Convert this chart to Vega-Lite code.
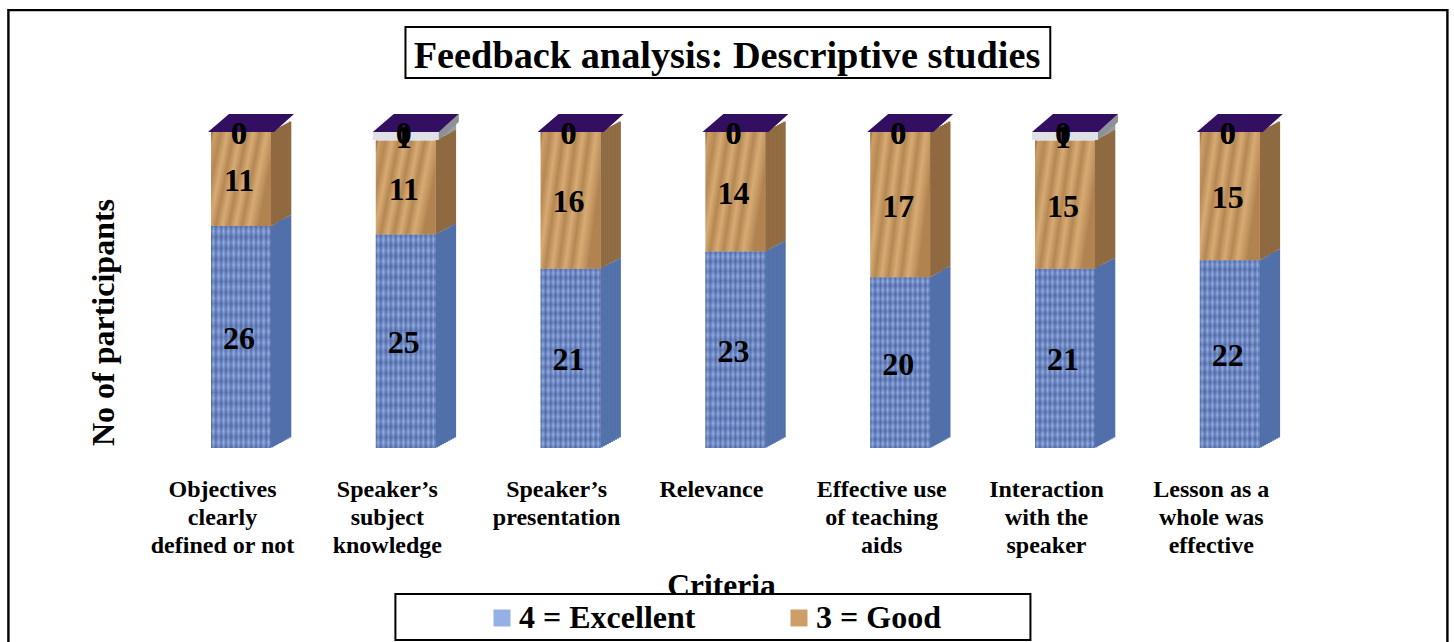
{
"$schema":"https://vega.github.io/schema/vega-lite/v6.json",
"width":1454,"height":642,"padding":0,"autosize":{"type":"none"},"background":"white",
"config":{"view":{"stroke":null},"font":"Liberation Serif"},
"title":{"text":"Feedback analysis: Descriptive studies","font":"Liberation Serif","fontSize":38.3,"fontWeight":"bold","color":"black","anchor":"middle","frame":"group","offset":-66,"dy":40,"baseline":"alphabetic"},
"data":{"values":[
{"criterion":"Objectives clearly defined or not","rating":"4 = Excellent","participants":26},
{"criterion":"Objectives clearly defined or not","rating":"3 = Good","participants":11},
{"criterion":"Objectives clearly defined or not","rating":"2 = Average","participants":0},
{"criterion":"Objectives clearly defined or not","rating":"1 = Poor","participants":0},
{"criterion":"Speaker’s subject knowledge","rating":"4 = Excellent","participants":25},
{"criterion":"Speaker’s subject knowledge","rating":"3 = Good","participants":11},
{"criterion":"Speaker’s subject knowledge","rating":"2 = Average","participants":1},
{"criterion":"Speaker’s subject knowledge","rating":"1 = Poor","participants":0},
{"criterion":"Speaker’s presentation","rating":"4 = Excellent","participants":21},
{"criterion":"Speaker’s presentation","rating":"3 = Good","participants":16},
{"criterion":"Speaker’s presentation","rating":"2 = Average","participants":0},
{"criterion":"Speaker’s presentation","rating":"1 = Poor","participants":0},
{"criterion":"Relevance","rating":"4 = Excellent","participants":23},
{"criterion":"Relevance","rating":"3 = Good","participants":14},
{"criterion":"Relevance","rating":"2 = Average","participants":0},
{"criterion":"Relevance","rating":"1 = Poor","participants":0},
{"criterion":"Effective use of teaching aids","rating":"4 = Excellent","participants":20},
{"criterion":"Effective use of teaching aids","rating":"3 = Good","participants":17},
{"criterion":"Effective use of teaching aids","rating":"2 = Average","participants":0},
{"criterion":"Effective use of teaching aids","rating":"1 = Poor","participants":0},
{"criterion":"Interaction with the speaker","rating":"4 = Excellent","participants":21},
{"criterion":"Interaction with the speaker","rating":"3 = Good","participants":15},
{"criterion":"Interaction with the speaker","rating":"2 = Average","participants":1},
{"criterion":"Interaction with the speaker","rating":"1 = Poor","participants":0},
{"criterion":"Lesson as a whole was effective","rating":"4 = Excellent","participants":22},
{"criterion":"Lesson as a whole was effective","rating":"3 = Good","participants":15},
{"criterion":"Lesson as a whole was effective","rating":"2 = Average","participants":0},
{"criterion":"Lesson as a whole was effective","rating":"1 = Poor","participants":0}
]},
"encoding":{
"x":{"field":"criterion","type":"nominal","sort":null,
 "scale":{"domain":["Objectives clearly defined or not","Speaker’s subject knowledge","Speaker’s presentation","Relevance","Effective use of teaching aids","Interaction with the speaker","Lesson as a whole was effective"],"range":[158.6,1312.2],"padding":0},
 "axis":{"orient":"bottom","offset":-172,"domain":false,"ticks":false,"grid":false,"labelAngle":0,"labelPadding":7,"labelOverlap":false,"labelLimit":400,"labelFont":"Liberation Serif","labelFontSize":24,"labelFontWeight":"bold","labelColor":"black","labelLineHeight":28,"labelBaseline":"top",
  "labelOffset":{"condition":[{"test":"datum.value=='Relevance'","value":-24},{"test":"datum.value=='Speaker’s presentation'","value":-14}],"value":-18.5},
  "labelExpr":"{'Objectives clearly defined or not':['Objectives','clearly','defined or not'],'Speaker’s subject knowledge':['Speaker’s','subject','knowledge'],'Speaker’s presentation':['Speaker’s','presentation'],'Relevance':['Relevance'],'Effective use of teaching aids':['Effective use','of teaching','aids'],'Interaction with the speaker':['Interaction','with the','speaker'],'Lesson as a whole was effective':['Lesson as a','whole was','effective']}[datum.label]",
  "title":"Criteria","titleFont":"Liberation Serif","titleFontSize":31.5,"titleFontWeight":"bold","titleColor":"black","titleX":721,"titleY":100,"titleAnchor":"middle"}},
"y":{"type":"quantitative","scale":{"domain":[0,52],"range":[448,4],"nice":false,"zero":false},
 "axis":{"domain":false,"ticks":false,"labels":false,"grid":false,"title":"No of participants","titleFont":"Liberation Serif","titleFontSize":32,"titleFontWeight":"bold","titleColor":"black","titleX":120,"titleY":322,"titleAnchor":"middle"}}
},
"layer":[
{"data":{"values":[{"part":"frame"}]},"mark":{"type":"point","shape":"M-0.727,0.52 V-0.122 H0.712 V0.52","filled":false,"size":4000000,"stroke":"black","strokeWidth":2.4,"opacity":1},
 "encoding":{"x":{"datum":"Relevance"},"y":{"datum":37}}},
{"data":{"values":[{"part":"title box"}]},"mark":{"type":"point","shape":"M-1.031,-0.088 H0.984 V0.071 H-1.031 Z","filled":false,"size":409600,"stroke":"black","strokeWidth":2,"opacity":1},
 "encoding":{"x":{"datum":"Relevance"},"y":{"datum":46}}},
{"data":{"values":[{"part":"legend box"}]},"mark":{"type":"point","shape":"M-1.0625,-0.0775 H0.922 V0.0663 H-1.0625 Z","filled":true,"size":409600,"fill":"white","stroke":"black","strokeWidth":2,"opacity":1},
 "encoding":{"x":{"datum":"Relevance"},"y":{"datum":-20}}},
{"transform":[
 {"calculate":"indexof(['4 = Excellent','3 = Good','2 = Average','1 = Poor'],datum.rating)","as":"order"},
 {"stack":"participants","groupby":["criterion"],"sort":[{"field":"order","order":"ascending"}],"as":["low","high"]},
 {"calculate":"(datum.low+datum.high)/2","as":"mid"}],
 "layer":[
 {"mark":{"type":"rule","strokeWidth":2.6,"xOffset":31,"yOffset":-0.6,"y2Offset":-0.6},"encoding":{"y":{"field":"low"},"y2":{"field":"high"},"stroke":{"field":"rating","scale":{"domain":["1 = Poor","2 = Average","3 = Good","4 = Excellent"],"range":["#330f62","#9a9ca6","#8f6a40","#5170aa"]},"legend":null}}},
 {"mark":{"type":"rule","strokeWidth":2.6,"xOffset":33,"yOffset":-1.7,"y2Offset":-1.7},"encoding":{"y":{"field":"low"},"y2":{"field":"high"},"stroke":{"field":"rating","legend":null}}},
 {"mark":{"type":"rule","strokeWidth":2.6,"xOffset":35,"yOffset":-2.8,"y2Offset":-2.8},"encoding":{"y":{"field":"low"},"y2":{"field":"high"},"stroke":{"field":"rating","legend":null}}},
 {"mark":{"type":"rule","strokeWidth":2.6,"xOffset":37,"yOffset":-3.9,"y2Offset":-3.9},"encoding":{"y":{"field":"low"},"y2":{"field":"high"},"stroke":{"field":"rating","legend":null}}},
 {"mark":{"type":"rule","strokeWidth":2.6,"xOffset":39,"yOffset":-5,"y2Offset":-5},"encoding":{"y":{"field":"low"},"y2":{"field":"high"},"stroke":{"field":"rating","legend":null}}},
 {"mark":{"type":"rule","strokeWidth":2.6,"xOffset":41,"yOffset":-6.1,"y2Offset":-6.1},"encoding":{"y":{"field":"low"},"y2":{"field":"high"},"stroke":{"field":"rating","legend":null}}},
 {"mark":{"type":"rule","strokeWidth":2.6,"xOffset":43,"yOffset":-7.2,"y2Offset":-7.2},"encoding":{"y":{"field":"low"},"y2":{"field":"high"},"stroke":{"field":"rating","legend":null}}},
 {"mark":{"type":"rule","strokeWidth":2.6,"xOffset":45,"yOffset":-8.3,"y2Offset":-8.3},"encoding":{"y":{"field":"low"},"y2":{"field":"high"},"stroke":{"field":"rating","legend":null}}},
 {"mark":{"type":"rule","strokeWidth":2.6,"xOffset":47,"yOffset":-9.4,"y2Offset":-9.4},"encoding":{"y":{"field":"low"},"y2":{"field":"high"},"stroke":{"field":"rating","legend":null}}},
 {"mark":{"type":"rule","strokeWidth":2.6,"xOffset":49,"yOffset":-10.5,"y2Offset":-10.5},"encoding":{"y":{"field":"low"},"y2":{"field":"high"},"stroke":{"field":"rating","legend":null}}},
 {"mark":{"type":"bar","width":60},"encoding":{"y":{"field":"low"},"y2":{"field":"high"},
  "fill":{"field":"rating","type":"nominal","scale":{"domain":["4 = Excellent","3 = Good","2 = Average","1 = Poor"],"range":["#94b0e6","#cd9e66","#d9dbe2","#330f62"]},
   "legend":{"values":["4 = Excellent","3 = Good"],"orient":"none","legendX":486,"legendY":602,"direction":"horizontal","columns":2,"padding":0,"title":null,"symbolType":"square","symbolSize":289,"symbolStrokeWidth":0,"labelFont":"Liberation Serif","labelFontSize":32,"labelFontWeight":"bold","labelColor":"black","labelOffset":1,"labelLimit":400,"columnPadding":87}}}},
 {"transform":[{"filter":"datum.rating=='4 = Excellent'"}],"mark":{"type":"bar","width":60,"fill":{"gradient":"linear","x1":0,"x2":1,"y1":0,"y2":0,"stops":[{"offset":0,"color":"rgba(25,45,110,0.45)"},{"offset":0.04,"color":"rgba(25,45,110,0)"},{"offset":0.08,"color":"rgba(25,45,110,0.4)"},{"offset":0.13,"color":"rgba(25,45,110,0)"},{"offset":0.17,"color":"rgba(25,45,110,0.4)"},{"offset":0.21,"color":"rgba(25,45,110,0)"},{"offset":0.25,"color":"rgba(25,45,110,0.4)"},{"offset":0.29,"color":"rgba(25,45,110,0)"},{"offset":0.33,"color":"rgba(25,45,110,0.4)"},{"offset":0.38,"color":"rgba(25,45,110,0)"},{"offset":0.42,"color":"rgba(25,45,110,0.4)"},{"offset":0.46,"color":"rgba(25,45,110,0)"},{"offset":0.5,"color":"rgba(25,45,110,0.4)"},{"offset":0.54,"color":"rgba(25,45,110,0)"},{"offset":0.58,"color":"rgba(25,45,110,0.4)"},{"offset":0.63,"color":"rgba(25,45,110,0)"},{"offset":0.67,"color":"rgba(25,45,110,0.4)"},{"offset":0.71,"color":"rgba(25,45,110,0)"},{"offset":0.75,"color":"rgba(25,45,110,0.4)"},{"offset":0.79,"color":"rgba(25,45,110,0)"},{"offset":0.83,"color":"rgba(25,45,110,0.4)"},{"offset":0.88,"color":"rgba(25,45,110,0)"},{"offset":0.92,"color":"rgba(25,45,110,0.4)"},{"offset":0.96,"color":"rgba(25,45,110,0)"},{"offset":1,"color":"rgba(25,45,110,0.45)"}]}},"encoding":{"y":{"field":"low"},"y2":{"field":"high"}}},
 {"transform":[{"filter":"datum.rating=='4 = Excellent'"}],"mark":{"type":"bar","width":60,"fill":{"gradient":"linear","x1":0,"x2":0,"y1":0,"y2":1,"stops":[{"offset":0,"color":"rgba(25,45,110,0.28)"},{"offset":0.025,"color":"rgba(25,45,110,0)"},{"offset":0.05,"color":"rgba(25,45,110,0.28)"},{"offset":0.075,"color":"rgba(25,45,110,0)"},{"offset":0.1,"color":"rgba(25,45,110,0.28)"},{"offset":0.125,"color":"rgba(25,45,110,0)"},{"offset":0.15,"color":"rgba(25,45,110,0.28)"},{"offset":0.175,"color":"rgba(25,45,110,0)"},{"offset":0.2,"color":"rgba(25,45,110,0.28)"},{"offset":0.225,"color":"rgba(25,45,110,0)"},{"offset":0.25,"color":"rgba(25,45,110,0.28)"},{"offset":0.275,"color":"rgba(25,45,110,0)"},{"offset":0.3,"color":"rgba(25,45,110,0.28)"},{"offset":0.325,"color":"rgba(25,45,110,0)"},{"offset":0.35,"color":"rgba(25,45,110,0.28)"},{"offset":0.375,"color":"rgba(25,45,110,0)"},{"offset":0.4,"color":"rgba(25,45,110,0.28)"},{"offset":0.425,"color":"rgba(25,45,110,0)"},{"offset":0.45,"color":"rgba(25,45,110,0.28)"},{"offset":0.475,"color":"rgba(25,45,110,0)"},{"offset":0.5,"color":"rgba(25,45,110,0.28)"},{"offset":0.525,"color":"rgba(25,45,110,0)"},{"offset":0.55,"color":"rgba(25,45,110,0.28)"},{"offset":0.575,"color":"rgba(25,45,110,0)"},{"offset":0.6,"color":"rgba(25,45,110,0.28)"},{"offset":0.625,"color":"rgba(25,45,110,0)"},{"offset":0.65,"color":"rgba(25,45,110,0.28)"},{"offset":0.675,"color":"rgba(25,45,110,0)"},{"offset":0.7,"color":"rgba(25,45,110,0.28)"},{"offset":0.725,"color":"rgba(25,45,110,0)"},{"offset":0.75,"color":"rgba(25,45,110,0.28)"},{"offset":0.775,"color":"rgba(25,45,110,0)"},{"offset":0.8,"color":"rgba(25,45,110,0.28)"},{"offset":0.825,"color":"rgba(25,45,110,0)"},{"offset":0.85,"color":"rgba(25,45,110,0.28)"},{"offset":0.875,"color":"rgba(25,45,110,0)"},{"offset":0.9,"color":"rgba(25,45,110,0.28)"},{"offset":0.925,"color":"rgba(25,45,110,0)"},{"offset":0.95,"color":"rgba(25,45,110,0.28)"},{"offset":0.975,"color":"rgba(25,45,110,0)"},{"offset":1,"color":"rgba(25,45,110,0.28)"}]}},"encoding":{"y":{"field":"low"},"y2":{"field":"high"}}},
 {"transform":[{"filter":"datum.rating=='3 = Good'"}],"mark":{"type":"bar","width":60,"fill":{"gradient":"linear","x1":0,"x2":1,"y1":0,"y2":0.3,"stops":[{"offset":0,"color":"rgba(90,50,15,0.5)"},{"offset":0.05,"color":"rgba(90,50,15,0)"},{"offset":0.15,"color":"rgba(90,50,15,0.2)"},{"offset":0.25,"color":"rgba(255,220,170,0.2)"},{"offset":0.35,"color":"rgba(90,50,15,0.22)"},{"offset":0.45,"color":"rgba(255,220,170,0.2)"},{"offset":0.55,"color":"rgba(90,50,15,0.22)"},{"offset":0.65,"color":"rgba(255,220,170,0.2)"},{"offset":0.75,"color":"rgba(90,50,15,0.22)"},{"offset":0.85,"color":"rgba(255,220,170,0.2)"},{"offset":1,"color":"rgba(90,50,15,0.25)"}]}},"encoding":{"y":{"field":"low"},"y2":{"field":"high"}}},
 {"transform":[{"filter":"datum.rating=='2 = Average' && datum.participants>0"}],"mark":{"type":"point","shape":"M0.66,0 L1.06,-0.36 V-0.2 L0.66,0.16 Z","filled":true,"size":10000,"fill":"#8e9098","opacity":1},"encoding":{"y":{"field":"high"}}},
 {"transform":[{"filter":"datum.rating=='2 = Average' && datum.participants>0"}],"mark":{"type":"point","shape":"M-0.66,0 H0.66 V0.16 H-0.66 Z","filled":true,"size":10000,"fill":"#dfe1e6","opacity":1},"encoding":{"y":{"field":"high"}}},
 {"transform":[{"filter":"datum.rating=='1 = Poor'"}],"mark":{"type":"point","shape":"M-0.66,0 L0.66,0 L1.06,-0.36 L-0.24,-0.36 Z","filled":true,"size":10000,"fill":"#330f62","opacity":1},"encoding":{"y":{"field":"high"}}},
 {"mark":{"type":"text","font":"Liberation Serif","fontSize":32,"fontWeight":"bold","color":"black","dx":-2,"dy":2,"baseline":"middle"},"encoding":{"y":{"field":"mid"},"text":{"field":"participants"}}}
 ]}
]
}
